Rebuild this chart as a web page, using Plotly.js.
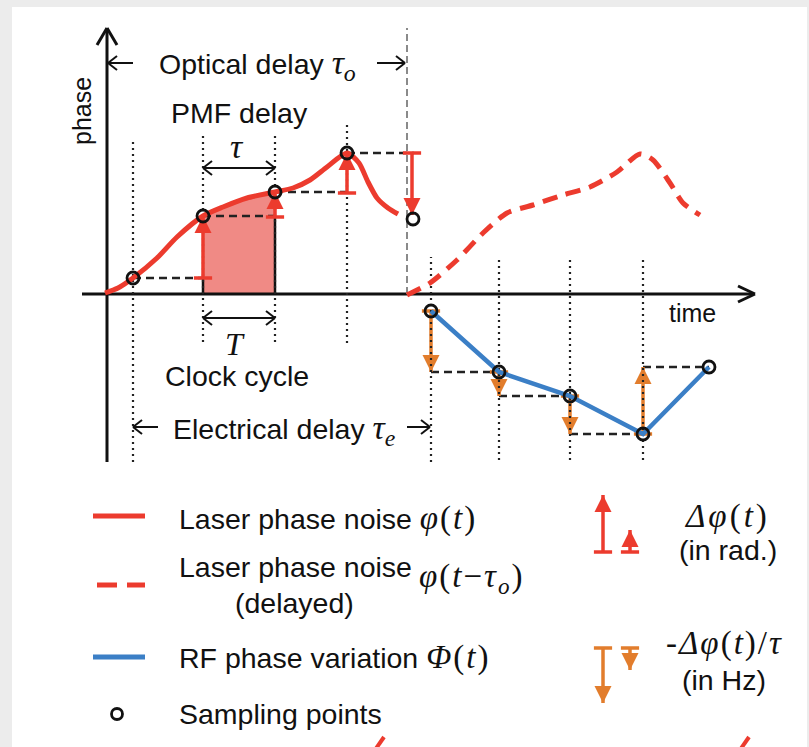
<!DOCTYPE html>
<html><head><meta charset="utf-8">
<script src="https://cdn.plot.ly/plotly-3.0.1.min.js"></script>
<style>html,body{margin:0;padding:0;background:#ececec;overflow:hidden}</style>
</head><body><div id="chart" style="width:809px;height:747px"></div>
<script>
// ---- data (t = time, p = phase, diagram units) ----
const phaseT   = [-2, 11, 26, 50, 70, 96, 116, 140, 168, 186, 203, 220, 240, 252, 261, 270, 281, 291];
const phaseP   = [1, 6, 16, 36, 57, 78, 87, 96, 102, 106, 114, 127, 141, 131, 112, 96, 86, 80];
const delayedT = [300, 323, 350, 376, 400, 426, 456, 483, 510, 533, 546, 563, 576, 593];
const delayedP = [-1, 11, 34, 61, 81, 89, 99, 107, 122, 140, 134, 111, 91, 79];
const sampleT  = [26, 96, 168, 240, 306];
const sampleP  = [16, 78, 102, 141, 75];
const rfT      = [324, 392, 463, 536, 602];
const rfP      = [-17, -78, -102, -140, -73];
const dphiT    = [96, 168, 240, 305];     // red Δφ bars
const dphiFrom = [16, 77, 101, 141];
const dphiTo   = [78, 102, 141, 79];
const dfT      = [324, 392, 463, 536];    // orange -Δφ/τ bars
const dfFrom   = [-17, -78, -102, -140];
const dfTo     = [-78, -102, -140, -73];
const clockT   = [26, 96, 168, 240];
const rfClockT = [324, 392, 463, 536];
const tauO     = 300;                      // optical delay marker

// ---- styles ----
const RED = '#ec3b2e', PINK = '#f08a85', BLUE = '#3b7fc6', ORANGE = '#e27d2c', BLK = '#111';
const SANS = 'Liberation Sans, Arial, sans-serif';
const SERIF = 'Liberation Serif';

function segs(list){ const x=[],y=[]; list.forEach(s=>{x.push(s[0],s[2],null);y.push(s[1],s[3],null);}); return {x,y}; }
function lineTrace(list, color, width, dash){ const s=segs(list); return {x:s.x,y:s.y,mode:'lines',line:{color,width,dash:dash||'solid'},hoverinfo:'skip'}; }
function arrowSegs(x0,y0,x1,y1,len,half){ // line from (x0,y0) to tip (x1,y1) + open chevron
  const dx=x1-x0, dy=y1-y0, L=Math.hypot(dx,dy), ux=dx/L, uy=dy/L, px=-uy, py=ux;
  return [[x0,y0,x1,y1],[x1-ux*len+px*half,y1-uy*len+py*half,x1,y1],[x1,y1,x1-ux*len-px*half,y1-uy*len-py*half]];
}
function bars(T, F, TO, color){
  const out=[];
  out.push(lineTrace(T.map((t,i)=>[t,F[i],t,TO[i]]), color, 3.5));
  out.push({x:T,y:F,mode:'markers',marker:{symbol:'line-ew',size:13,line:{color,width:3.5}},hoverinfo:'skip'});
  out.push({x:T,y:TO,mode:'markers',marker:{symbol:TO.map((v,i)=>v>F[i]?'arrow-up':'arrow-down'),size:17,color,line:{width:0}},hoverinfo:'skip'});
  return out;
}

const traces = [];
// shaded area under the curve between two clock ticks
const fx=[dphiT[0]], fy=[0];
phaseT.forEach((t,i)=>{ if(t>=dphiT[0] && t<=dphiT[1]){fx.push(t);fy.push(phaseP[i]);} });
fx.push(dphiT[1],dphiT[0]); fy.push(0,0);
traces.push({x:fx,y:fy,mode:'lines',fill:'toself',fillcolor:PINK,line:{width:0},hoverinfo:'skip'});

// axes with arrows
traces.push(lineTrace([[0,-168,0,264],[-10,249,0,266],[0,266,10,249],[-25,0,646,0],[631,8,648,0],[648,0,631,-8]], BLK, 3));
// grey dashed optical delay line
traces.push(lineTrace([[tauO,0,tauO,266]], '#8a8a8a', 2, '7px,4px'));
// shaded edges
traces.push(lineTrace([[dphiT[0],0,dphiT[0],dphiFrom[0]],[dphiT[1],0,dphiT[1],dphiFrom[1]]], BLK, 2.5));
// black dashed horizontals
const hd=[];
for(let i=0;i<4;i++) hd.push([sampleT[i],sampleP[i],sampleT[i+1]-(i==3?-1:0),sampleP[i]]);
for(let i=0;i<4;i++) hd.push([rfT[i],rfP[i+1],rfT[i+1],rfP[i+1]]);
traces.push(lineTrace(hd, '#222', 2.5, '8px,5px'));
// orange bars
traces.push(...bars(dfT, dfFrom, dfTo, ORANGE));
// dotted clock lines
const dl=[];
const ctop=[156,159,159,171], cbot=[-168,-48,-48,-49];
clockT.forEach((t,i)=>dl.push([t,cbot[i],t,ctop[i]]));
rfClockT.forEach((t,i)=>dl.push([t,i==0?-168:-166,t,37]));
traces.push(lineTrace(dl, '#222', 2.2, '2px,4px'));
// curves
traces.push({x:phaseT,y:phaseP,mode:'lines',line:{color:RED,width:5,shape:'spline',smoothing:0.7},hoverinfo:'skip'});
traces.push({x:delayedT,y:delayedP,mode:'lines',line:{color:RED,width:5,shape:'spline',smoothing:0.7,dash:'15px,9px'},hoverinfo:'skip'});
traces.push({x:rfT,y:rfP,mode:'lines',line:{color:BLUE,width:4.5},hoverinfo:'skip'});
// red bars
traces.push(...bars(dphiT, dphiFrom, dphiTo, RED));
// sample points
traces.push({x:sampleT.concat(rfT),y:sampleP.concat(rfP),mode:'markers',marker:{symbol:'circle-open',size:12,color:BLK,line:{width:2.8}},hoverinfo:'skip'});
// double arrows
let da=[];
da=da.concat(arrowSegs(132,126,96,126,9,7),arrowSegs(132,126,168,126,9,7));
da=da.concat(arrowSegs(132,-24,96,-24,9,7),arrowSegs(132,-24,168,-24,9,7));
da=da.concat(arrowSegs(26,231,1,231,9,7),arrowSegs(270,231,298,231,9,7));
da=da.concat(arrowSegs(51,-133,26,-133,9,7),arrowSegs(300,-133,323,-133,9,7));
traces.push(lineTrace(da, BLK, 2));

// legend samples
traces.push(lineTrace([[-14,-222,38,-222]], RED, 5));
traces.push(lineTrace([[-10,-291,10,-291],[20,-291,38,-291]], RED, 5));
traces.push(lineTrace([[-14,-363,38,-363]], BLUE, 5));
traces.push({x:[10],y:[-420],mode:'markers',marker:{symbol:'circle-open',size:11,color:BLK,line:{width:2.8}},hoverinfo:'skip'});
traces.push(...bars([496,523],[-258,-258],[-201,-236], RED));
traces.push(...bars([496,523],[-354,-354],[-409,-376], ORANGE));
// partial marks of the next figure at the bottom edge
traces.push(lineTrace([[268,-456,277,-443],[633,-456,642,-443]], RED, 4));

function mth(s,size,ls){ return `<span style="font-family:${SERIF};font-size:${size}px;letter-spacing:${ls||0}px">${s}</span>`; }
const F = 28.5;
const ann = [
  {x:-25,y:183,text:'phase',textangle:-90,size:25},
  {x:585,y:-19,text:'time',size:25},
  {x:150,y:229,text:'Optical delay '+mth('<i>τ<sub>o</sub></i>',34)},
  {x:132,y:181,text:'PMF delay'},
  {x:130,y:148,text:mth('<i>τ</i>',34)},
  {x:128,y:-50,text:mth('<i>T</i>',32)},
  {x:130,y:-82,text:'Clock cycle'},
  {x:177,y:-136,text:'Electrical delay '+mth('<i>τ<sub>e</sub></i>',34)},
  {x:70,y:-224,text:'Laser phase noise '+mth('<i>φ</i>(<i>t</i>)',33,2),xa:'left'},
  {x:70,y:-273,text:'Laser phase noise',xa:'left'},
  {x:310,y:-284,text:mth('<i>φ</i>(<i>t</i>−<i>τ<sub>o</sub></i>)',33,2),xa:'left'},
  {x:187,y:-309,text:'(delayed)'},
  {x:70,y:-363,text:'RF phase variation '+mth('<i>Φ</i>(<i>t</i>)',33,2),xa:'left'},
  {x:70,y:-420,text:'Sampling points',xa:'left'},
  {x:620,y:-222,text:mth('<i>Δφ</i>(<i>t</i>)',33,3)},
  {x:621,y:-256,text:'(in rad.)'},
  {x:617,y:-349,text:mth('-<i>Δφ</i>(<i>t</i>)/<i>τ</i>',33,2)},
  {x:617,y:-386,text:'(in Hz)'}
].map(a=>({x:a.x,y:a.y,xref:'x',yref:'y',text:a.text,showarrow:false,textangle:a.textangle||0,
  xanchor:a.xa||'center',yanchor:'middle',font:{family:SANS,size:a.size||F,color:BLK}}));

const layout = {
  width:809,height:747,margin:{l:12,r:2,t:7,b:0,pad:0},
  paper_bgcolor:'#ececec',plot_bgcolor:'#ffffff',showlegend:false,
  xaxis:{range:[-95,700],visible:false,fixedrange:true},
  yaxis:{range:[-453,287],visible:false,fixedrange:true},
  annotations:ann
};
Plotly.newPlot('chart',traces,layout,{staticPlot:true,displayModeBar:false});
</script></body></html>
